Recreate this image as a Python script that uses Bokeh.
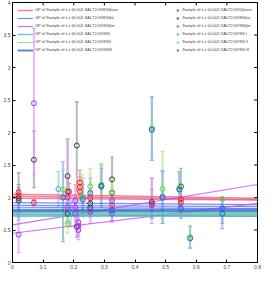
from bokeh.plotting import figure
from bokeh.models import Legend, LegendItem, FixedTicker, Range1d
from bokeh.embed import file_html
from bokeh.resources import INLINE

# ---- axes ----
x_ticks = [0, 0.1, 0.2, 0.3, 0.4, 0.5, 0.6, 0.7, 0.8]
x_tick_labels = ["0", "0.1", "0.2", "0.3", "0.4", "0.5", "0.6", "0.7", "0.8"]
y_ticks = [0, 0.5, 1, 1.5, 2, 2.5, 3, 3.5, 4]
y_tick_labels = ["0", "0.5", "1", "1.5", "2", "2.5", "3", "3.5", "4"]
x_lim = [0, 0.8]
y_lim = [0, 4]

# ---- GP lines (y at x = 0 and x = 0.8) ----
gp_x = [0.0, 0.8]
gp_laser = [[1.05, 0.99], [1.02, 0.97], [0.99, 0.96]]
gp_lat = [[0.92, 0.89], [0.88, 0.86], [0.85, 0.83]]
gp_lim = [[0.58, 1.20], [0.45, 0.91], [0.74, 0.71]]
gp_ssi = [[0.76, 0.75], [0.73, 0.73], [0.71, 0.71]]
gp_ssii = [[0.78, 0.77], [0.74, 0.74]]
gp_ssiii = [[0.81, 0.81], [0.79, 0.79]]

gp_labels = [
    "GP of Sample of ii z \u22640.001:SALT2:09/ES|laser",
    "GP of Sample of ii z \u22640.001:SALT2:09/ES|lat",
    "GP of Sample of ii z \u22640.001:SALT2:09/SS|lim",
    "GP of Sample of ii z \u22640.001:SALT2:09/SSI",
    "GP of Sample of ii z \u22640.001:SALT2:09/SSII",
    "GP of Sample of ii z \u22640.001:SALT2:09/SSIII",
]

# ---- samples ----
laser_x = [0.02, 0.02, 0.07, 0.185, 0.22, 0.22, 0.22, 0.254, 0.325, 0.455, 0.55, 0.55]
laser_y = [1.08, 1.03, 0.92, 1.09, 1.23, 1.16, 1.09, 0.99, 0.88, 0.90, 0.97, 0.92]
laser_lo = [0.98, 0.95, 0.87, 0.95, 1.05, 1.00, 0.95, 0.90, 0.78, 0.70, 0.88, 0.85]
laser_hi = [1.16, 1.12, 0.97, 1.22, 1.42, 1.32, 1.20, 1.10, 1.00, 1.12, 1.05, 1.00]

lat_x = [0.02, 0.02, 0.07, 0.18, 0.18, 0.18, 0.21, 0.21, 0.254, 0.254, 0.29, 0.325, 0.325, 0.455, 0.55]
lat_y = [0.99, 0.95, 1.58, 1.33, 1.09, 0.75, 1.80, 0.55, 0.91, 0.84, 1.18, 1.28, 1.07, 0.93, 1.17]
lat_lo = [0.65, 0.70, 1.15, 1.10, 0.90, 0.60, 1.10, 0.39, 0.75, 0.70, 0.85, 0.95, 0.85, 0.68, 0.90]
lat_hi = [1.38, 1.20, 2.02, 1.90, 1.30, 0.90, 2.47, 0.70, 1.10, 1.00, 1.50, 1.62, 1.30, 1.30, 1.45]

lim_x = [0.02, 0.07, 0.18, 0.18, 0.205, 0.205, 0.205, 0.215, 0.215, 0.215, 0.254, 0.325, 0.325, 0.455]
lim_y = [0.43, 2.45, 1.00, 0.85, 0.95, 0.85, 0.75, 0.62, 0.56, 0.50, 0.78, 0.95, 0.75, 0.88]
lim_lo = [0.15, 1.35, 0.60, 0.65, 0.70, 0.65, 0.55, 0.42, 0.40, 0.35, 0.60, 0.75, 0.62, 0.60]
lim_hi = [0.75, 3.60, 1.90, 1.05, 1.20, 1.05, 0.95, 0.80, 0.72, 0.65, 0.95, 1.15, 0.90, 1.30]

ssi_x = [0.15, 0.19, 0.23, 0.29, 0.455, 0.49, 0.545, 0.685]
ssi_y = [1.13, 0.75, 1.00, 1.17, 2.06, 1.02, 1.13, 0.83]
ssi_lo = [0.87, 0.55, 0.70, 0.90, 1.57, 0.60, 0.90, 0.60]
ssi_hi = [1.40, 0.95, 1.30, 1.45, 2.55, 1.41, 1.38, 1.00]

ssii_x = [0.165, 0.18, 0.227, 0.254, 0.29, 0.325, 0.455, 0.49, 0.545, 0.58, 0.685]
ssii_y = [1.12, 0.60, 1.01, 1.17, 1.20, 1.08, 2.06, 1.13, 1.15, 0.39, 0.98]
ssii_lo = [0.35, 0.45, 0.75, 0.90, 0.90, 0.85, 1.57, 0.60, 0.90, 0.22, 0.75]
ssii_hi = [1.42, 0.80, 1.35, 1.45, 1.52, 1.30, 2.55, 1.71, 1.38, 0.57, 1.00]

ssiii_x = [0.165, 0.23, 0.254, 0.29, 0.325, 0.455, 0.49, 0.545, 0.55, 0.58, 0.685, 0.685]
ssiii_y = [1.00, 0.97, 1.07, 1.17, 0.80, 2.04, 1.00, 1.12, 0.83, 0.37, 0.75, 0.83]
ssiii_lo = [0.32, 0.75, 0.85, 0.90, 0.65, 1.57, 0.60, 0.85, 0.68, 0.22, 0.52, 0.60]
ssiii_hi = [1.55, 1.20, 1.30, 1.45, 0.95, 2.55, 1.41, 1.40, 1.00, 0.55, 0.98, 1.00]

sample_labels = [
    "Sample of ii z \u22640.001:SALT2:09/D|laser",
    "Sample of ii z \u22640.001:SALT2:09/ES|lat",
    "Sample of ii z \u22640.001:SALT2:09/SS|lim",
    "Sample of ii z \u22640.001:SALT2:09/SS I",
    "Sample of ii z \u22640.001:SALT2:09/SS II",
    "Sample of ii z \u22640.001:SALT2:09/SS III",
]

FONT = "Liberation Sans"

p = figure(width=261, height=271, output_backend="svg", toolbar_location=None,
           x_range=Range1d(*x_lim), y_range=Range1d(*y_lim))
p.min_border_left = 0
p.min_border_right = 4
p.min_border_top = 2
p.min_border_bottom = 0
p.grid.visible = False
p.outline_line_color = "black"
p.outline_line_width = 1
p.background_fill_color = "white"

for ax, ticks, labels in ((p.xaxis[0], x_ticks, x_tick_labels), (p.yaxis[0], y_ticks, y_tick_labels)):
    ax.ticker = FixedTicker(ticks=ticks, minor_ticks=[])
    ax.major_label_overrides = dict(zip(ticks, labels))
    ax.major_tick_in = 3
    ax.major_tick_out = 0
    ax.minor_tick_in = 0
    ax.minor_tick_out = 0
    ax.major_label_text_font_size = "5px"
    ax.major_label_text_font = FONT
    ax.major_label_standoff = 2
    ax.axis_line_color = "black"

# mirrored inward ticks on top and right edges (box style)
tick_dx = 0.011
tick_dy = 0.045
p.segment(x0=x_ticks, y0=[y_lim[1]] * len(x_ticks), x1=x_ticks,
          y1=[y_lim[1] - tick_dy] * len(x_ticks), line_color="black", line_width=1)
p.segment(x0=[x_lim[1]] * len(y_ticks), y0=y_ticks, x1=[x_lim[1] - tick_dx] * len(y_ticks),
          y1=y_ticks, line_color="black", line_width=1)

series = [
    (laser_x, laser_y, laser_lo, laser_hi, "#ff2020", "#ff9090"),
    (lat_x, lat_y, lat_lo, lat_hi, "#404040", "#a0a0a0"),
    (lim_x, lim_y, lim_lo, lim_hi, "#b030f0", "#d8a0ff"),
    (ssi_x, ssi_y, ssi_lo, ssi_hi, "#30b0c0", "#90d0e8"),
    (ssii_x, ssii_y, ssii_lo, ssii_hi, "#60e020", "#b0f080"),
    (ssiii_x, ssiii_y, ssiii_lo, ssiii_hi, "#3060e0", "#90b0ec"),
]

# error bars
for xs, ys, lo, hi, col, ecol in series:
    p.segment(x0=xs, y0=lo, x1=xs, y1=hi, line_color=ecol, line_width=2, line_alpha=0.7)
    p.scatter(x=xs + xs, y=lo + hi, marker="dash", size=4, line_color=ecol, line_width=1.2, line_alpha=0.9)

# GP lines
gp_sets = [
    (gp_laser, "#e85a80", 1.5),
    (gp_lat, "#4868ff", 1.2),
    (gp_lim, "#c040ff", 1.2),
    (gp_ssi, "#40b8e8", 1.5),
    (gp_ssii, "#70d850", 1.0),
    (gp_ssiii, "#2a68c8", 2.0),
]
gp_renderers = []
for lines, col, w in gp_sets:
    first = None
    for l in lines:
        r = p.line(x=gp_x, y=l, line_color=col, line_width=w, line_alpha=0.75)
        if first is None:
            first = r
    gp_renderers.append(first)

# circles
pt_renderers = []
for xs, ys, lo, hi, col, ecol in series:
    r = p.scatter(x=xs, y=ys, marker="circle", size=5, fill_color=None, line_color=col, line_width=1)
    pt_renderers.append(r)

leg1 = Legend(items=[LegendItem(label=l, renderers=[r]) for l, r in zip(gp_labels, gp_renderers)],
              location="top_left")
leg2 = Legend(items=[LegendItem(label=l, renderers=[r]) for l, r in zip(sample_labels, pt_renderers)],
              location="top_right")
for lg, gw in ((leg1, 16), (leg2, 6)):
    lg.label_text_font_size = "4px"
    lg.label_text_font = FONT
    lg.label_height = 4
    lg.glyph_height = 4
    lg.glyph_width = gw
    lg.spacing = 3
    lg.padding = 2
    lg.margin = 3
    lg.label_standoff = 2
    lg.border_line_alpha = 0
    lg.background_fill_alpha = 0
    p.add_layout(lg)

open("out.html", "w").write(file_html(p, INLINE))
